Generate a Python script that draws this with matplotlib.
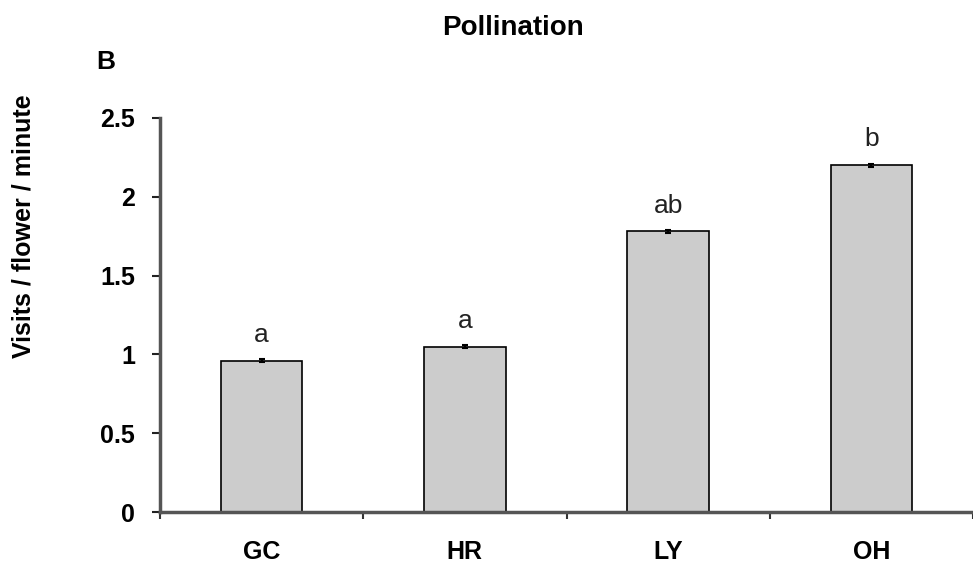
import matplotlib
matplotlib.use("Agg")
import matplotlib.pyplot as plt
import numpy as np

categories = ["GC", "HR", "LY", "OH"]
values = [0.96, 1.05, 1.78, 2.20]
errors = [0.01, 0.01, 0.01, 0.01]
letters = ["a", "a", "ab", "b"]
yticks = [0, 0.5, 1, 1.5, 2, 2.5]
ytick_labels = ["0", "0.5", "1", "1.5", "2", "2.5"]

plt.rcParams['font.family'] = ['Liberation Sans', 'DejaVu Sans']

fig = plt.figure(figsize=(9.73, 5.7), dpi=100)
ax = fig.add_axes([160/973, 1 - 512/570, 1 - 160/973, (512 - 118)/570])

x = np.arange(len(categories))
ax.bar(x, values, width=0.40, color="#cccccc", edgecolor="black", linewidth=1.2,
       yerr=errors, error_kw=dict(ecolor="black", elinewidth=1.5, capsize=2, capthick=1.5), zorder=2)

for xi, v, l in zip(x, values, letters):
    ax.annotate(l, (xi, v), xytext=(0, 10), textcoords="offset points",
                ha="center", va="bottom", fontsize=19, color="#222222")

ax.set_xlim(-0.5, len(categories) - 0.5)
ax.set_ylim(0, 2.5)
ax.set_yticks(yticks)
ax.set_yticklabels(ytick_labels, fontsize=18, fontweight="bold")
ax.set_xticks(x)
ax.set_xticklabels(categories, fontsize=18, fontweight="bold")
ax.tick_params(axis="x", length=0, pad=20)
ax.set_xticks(np.arange(-0.5, len(categories), 1.0), minor=True)
ax.tick_params(axis="x", which="minor", length=5, width=1.5, color="#333333", direction="out")
ax.tick_params(axis="y", length=6, width=1.5, color="#222222", pad=12, direction="out")

for s in ["top", "right"]:
    ax.spines[s].set_visible(False)
for s in ["left", "bottom"]:
    ax.spines[s].set_linewidth(2.5)
    ax.spines[s].set_color("#555555")

fig.text(24/973, 1 - 226/570, "Visits / flower / minute", rotation=90, ha="center", va="center",
         fontsize=18, fontweight="bold")
fig.text(513/973, 1 - 28/570, "Pollination", ha="center", va="center", fontsize=20, fontweight="bold")
fig.text(106/973, 1 - 62/570, "B", ha="center", va="center", fontsize=19, fontweight="bold")

fig.savefig("out.png", dpi=100)
